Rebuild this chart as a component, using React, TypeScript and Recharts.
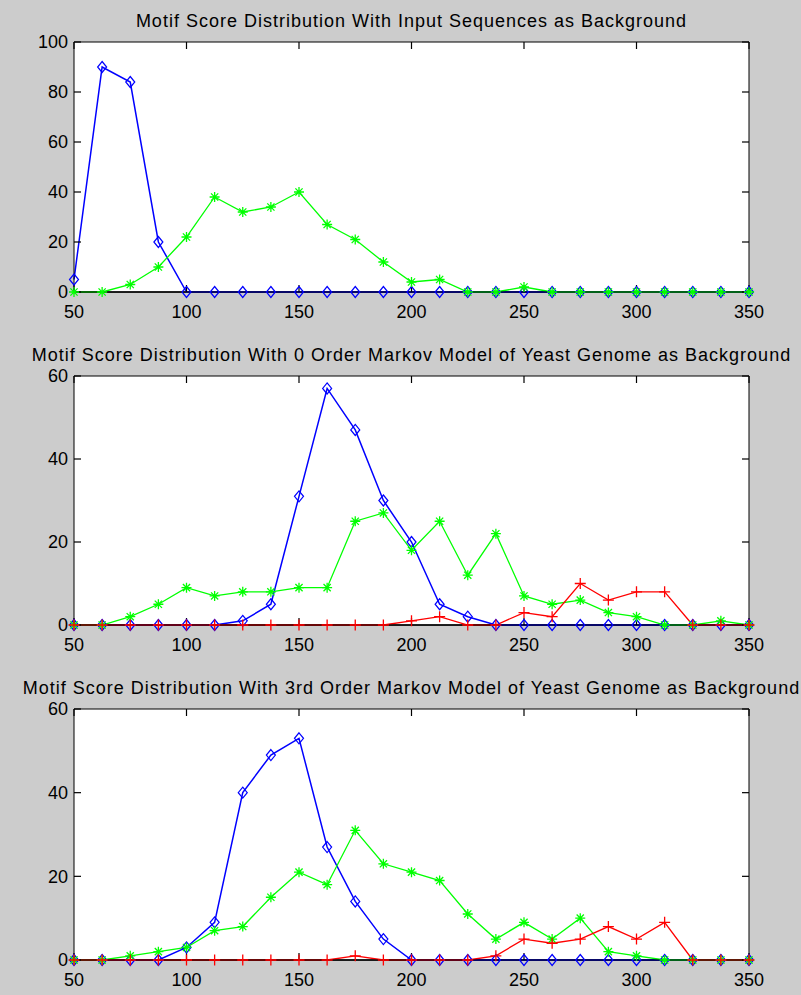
import React from 'react';
import { LineChart, Line, XAxis, YAxis, CartesianGrid, ReferenceDot } from 'recharts';

const SCORES = [50, 62.5, 75, 87.5, 100, 112.5, 125, 137.5, 150, 162.5, 175, 187.5, 200, 212.5, 225, 237.5, 250, 262.5, 275, 287.5, 300, 312.5, 325, 337.5, 350];
const X_TICKS = [50, 100, 150, 200, 250, 300, 350];
const Y_TICKS_INPUT = [0, 20, 40, 60, 80, 100];
const Y_TICKS_MARKOV = [0, 20, 40, 60];

const TITLE_INPUT = 'Motif Score Distribution With Input Sequences as Background';
const TITLE_ORDER0 = 'Motif Score Distribution With 0 Order Markov Model of Yeast Genome as Background';
const TITLE_ORDER3 = 'Motif Score Distribution With 3rd Order Markov Model of Yeast Genome as Background';

const BASELINE = [0, 0, 0, 0, 0, 0, 0, 0, 0, 0, 0, 0, 0, 0, 0, 0, 0, 0, 0, 0, 0, 0, 0, 0, 0];

const INPUT_BLUE = [5, 90, 84, 20, 0, 0, 0, 0, 0, 0, 0, 0, 0, 0, 0, 0, 0, 0, 0, 0, 0, 0, 0, 0, 0];
const INPUT_GREEN = [0, 0, 3, 10, 22, 38, 32, 34, 40, 27, 21, 12, 4, 5, 0, 0, 2, 0, 0, 0, 0, 0, 0, 0, 0];

const ORDER0_BLUE = [0, 0, 0, 0, 0, 0, 1, 5, 31, 57, 47, 30, 20, 5, 2, 0, 0, 0, 0, 0, 0, 0, 0, 0, 0];
const ORDER0_GREEN = [0, 0, 2, 5, 9, 7, 8, 8, 9, 9, 25, 27, 18, 25, 12, 22, 7, 5, 6, 3, 2, 0, 0, 1, 0];
const ORDER0_RED = [0, 0, 0, 0, 0, 0, 0, 0, 0, 0, 0, 0, 1, 2, 0, 0, 3, 2, 10, 6, 8, 8, 0, 0, 0];

const ORDER3_BLUE = [0, 0, 0, 0, 3, 9, 40, 49, 53, 27, 14, 5, 0, 0, 0, 0, 0, 0, 0, 0, 0, 0, 0, 0, 0];
const ORDER3_GREEN = [0, 0, 1, 2, 3, 7, 8, 15, 21, 18, 31, 23, 21, 19, 11, 5, 9, 5, 10, 2, 1, 0, 0, 0, 0];
const ORDER3_RED = [0, 0, 0, 0, 0, 0, 0, 0, 0, 0, 1, 0, 0, 0, 0, 1, 5, 4, 5, 8, 5, 9, 0, 0, 0];

const FONT = '"Liberation Sans", Arial, Helvetica, sans-serif';
const BLUE = '#0000ff';
const GREEN = '#00ff00';
const RED = '#ff0000';
const TICK_LEN = 7;

function DiamondDot(props: any) {
  const { cx, cy, index } = props;
  if (cx == null || cy == null) return <g key={`d-${index}`} />;
  return (
    <path
      key={`d-${index}`}
      d={`M${cx} ${cy - 5.5}L${cx + 4.5} ${cy}L${cx} ${cy + 5.5}L${cx - 4.5} ${cy}Z`}
      fill="none"
      stroke={BLUE}
      strokeWidth={1.2}
    />
  );
}

function StarDot(props: any) {
  const { cx, cy, index } = props;
  if (cx == null || cy == null) return <g key={`s-${index}`} />;
  const r = 5;
  const d = 3.6;
  return (
    <path
      key={`s-${index}`}
      d={`M${cx - r} ${cy}L${cx + r} ${cy}M${cx} ${cy - r}L${cx} ${cy + r}M${cx - d} ${cy - d}L${cx + d} ${cy + d}M${cx - d} ${cy + d}L${cx + d} ${cy - d}`}
      stroke={GREEN}
      strokeWidth={1.3}
      fill="none"
    />
  );
}

function PlusDot(props: any) {
  const { cx, cy, index } = props;
  if (cx == null || cy == null) return <g key={`p-${index}`} />;
  const r = 5.5;
  return (
    <path
      key={`p-${index}`}
      d={`M${cx - r} ${cy}L${cx + r} ${cy}M${cx} ${cy - r}L${cx} ${cy + r}`}
      stroke={RED}
      strokeWidth={1.3}
      fill="none"
    />
  );
}

// inward tick-mark shapes, anchored at the tick's position on the frame
const tickShape = (dx: number, dy: number) => (p: any) => {
  if (p.cx == null || p.cy == null) return <g />;
  return <path d={`M${p.cx} ${p.cy}l${dx} ${dy}`} stroke="#000" strokeWidth={1.2} fill="none" />;
};
const UP_TICK = tickShape(0, -TICK_LEN);
const DOWN_TICK = tickShape(0, TICK_LEN);
const RIGHTWARD_TICK = tickShape(TICK_LEN, 0);
const LEFTWARD_TICK = tickShape(-TICK_LEN, 0);

type PanelProps = {
  top: number;
  height: number;
  plotTop: number;
  plotBottom: number;
  titleTop: number;
  title: string;
  yMax: number;
  yTicks: number[];
  blue: number[];
  green: number[];
  red?: number[];
};

function Panel({ top, height, plotTop, plotBottom, titleTop, title, yMax, yTicks, blue, green, red }: PanelProps) {
  const rows = SCORES.map((s, i) => ({
    score: s,
    base: BASELINE[i],
    blue: blue[i],
    green: green[i],
    red: red ? red[i] : null,
  }));
  const tickStyle = { fill: '#000', fontSize: 18, fontFamily: FONT };
  const xMin = X_TICKS[0];
  const xMax = X_TICKS[X_TICKS.length - 1];
  return (
    <>
      <div
        style={{
          position: 'absolute',
          top: top + titleTop,
          left: -200,
          width: 1223,
          textAlign: 'center',
          fontFamily: FONT,
          fontSize: 18,
          letterSpacing: '1px',
          lineHeight: '20px',
          color: '#000',
          whiteSpace: 'nowrap',
        }}
      >
        {title}
      </div>
      <div style={{ position: 'absolute', top, left: 0 }}>
        <LineChart
          width={801}
          height={height}
          data={rows}
          margin={{ top: plotTop - 1, right: 51, bottom: height - plotBottom - 30, left: 14 }}
        >
          <CartesianGrid fill="#ffffff" stroke="none" horizontal={false} vertical={false} />
          <XAxis
            dataKey="score"
            type="number"
            domain={[xMin, xMax]}
            ticks={X_TICKS}
            interval={0}
            height={30}
            tickSize={0}
            tickMargin={13}
            axisLine={{ stroke: '#000' }}
            tickLine={false}
            tick={tickStyle}
          />
          <XAxis
            xAxisId="top"
            dataKey="score"
            orientation="top"
            type="number"
            domain={[xMin, xMax]}
            ticks={X_TICKS}
            height={1}
            axisLine={{ stroke: '#000' }}
            tickLine={false}
            tick={false}
          />
          <YAxis
            type="number"
            domain={[0, yMax]}
            ticks={yTicks}
            interval={0}
            width={60}
            tickSize={0}
            tickMargin={6}
            axisLine={{ stroke: '#000' }}
            tickLine={false}
            tick={tickStyle}
          />
          <YAxis
            yAxisId="right"
            orientation="right"
            type="number"
            domain={[0, yMax]}
            ticks={yTicks}
            width={1}
            axisLine={{ stroke: '#000' }}
            tickLine={false}
            tick={false}
          />
          {X_TICKS.map((t) => (
            <ReferenceDot key={`xb-${t}`} x={t} y={0} ifOverflow="visible" shape={UP_TICK} />
          ))}
          {X_TICKS.map((t) => (
            <ReferenceDot key={`xt-${t}`} x={t} y={yMax} ifOverflow="visible" shape={DOWN_TICK} />
          ))}
          {yTicks.map((t) => (
            <ReferenceDot key={`yl-${t}`} x={xMin} y={t} ifOverflow="visible" shape={RIGHTWARD_TICK} />
          ))}
          {yTicks.map((t) => (
            <ReferenceDot key={`yr-${t}`} x={xMax} y={t} ifOverflow="visible" shape={LEFTWARD_TICK} />
          ))}
          <Line dataKey="base" stroke="#000" strokeWidth={1.5} dot={false} isAnimationActive={false} />
          <Line dataKey="blue" stroke={BLUE} strokeWidth={1.5} dot={DiamondDot} isAnimationActive={false} />
          <Line dataKey="green" stroke={GREEN} strokeWidth={1.3} dot={StarDot} isAnimationActive={false} />
          {red ? (
            <Line dataKey="red" stroke={RED} strokeWidth={1.3} dot={PlusDot} isAnimationActive={false} />
          ) : null}
        </LineChart>
      </div>
    </>
  );
}

export default function App() {
  return (
    <div
      style={{
        position: 'absolute',
        left: 0,
        top: 0,
        width: 801,
        height: 995,
        background: '#cccccc',
        overflow: 'hidden',
      }}
    >
      <Panel
        top={0}
        height={330}
        plotTop={42}
        plotBottom={292}
        titleTop={11}
        title={TITLE_INPUT}
        yMax={100}
        yTicks={Y_TICKS_INPUT}
        blue={INPUT_BLUE}
        green={INPUT_GREEN}
      />
      <Panel
        top={330}
        height={330}
        plotTop={46}
        plotBottom={295}
        titleTop={15}
        title={TITLE_ORDER0}
        yMax={60}
        yTicks={Y_TICKS_MARKOV}
        blue={ORDER0_BLUE}
        green={ORDER0_GREEN}
        red={ORDER0_RED}
      />
      <Panel
        top={660}
        height={335}
        plotTop={49}
        plotBottom={300}
        titleTop={18}
        title={TITLE_ORDER3}
        yMax={60}
        yTicks={Y_TICKS_MARKOV}
        blue={ORDER3_BLUE}
        green={ORDER3_GREEN}
        red={ORDER3_RED}
      />
    </div>
  );
}
